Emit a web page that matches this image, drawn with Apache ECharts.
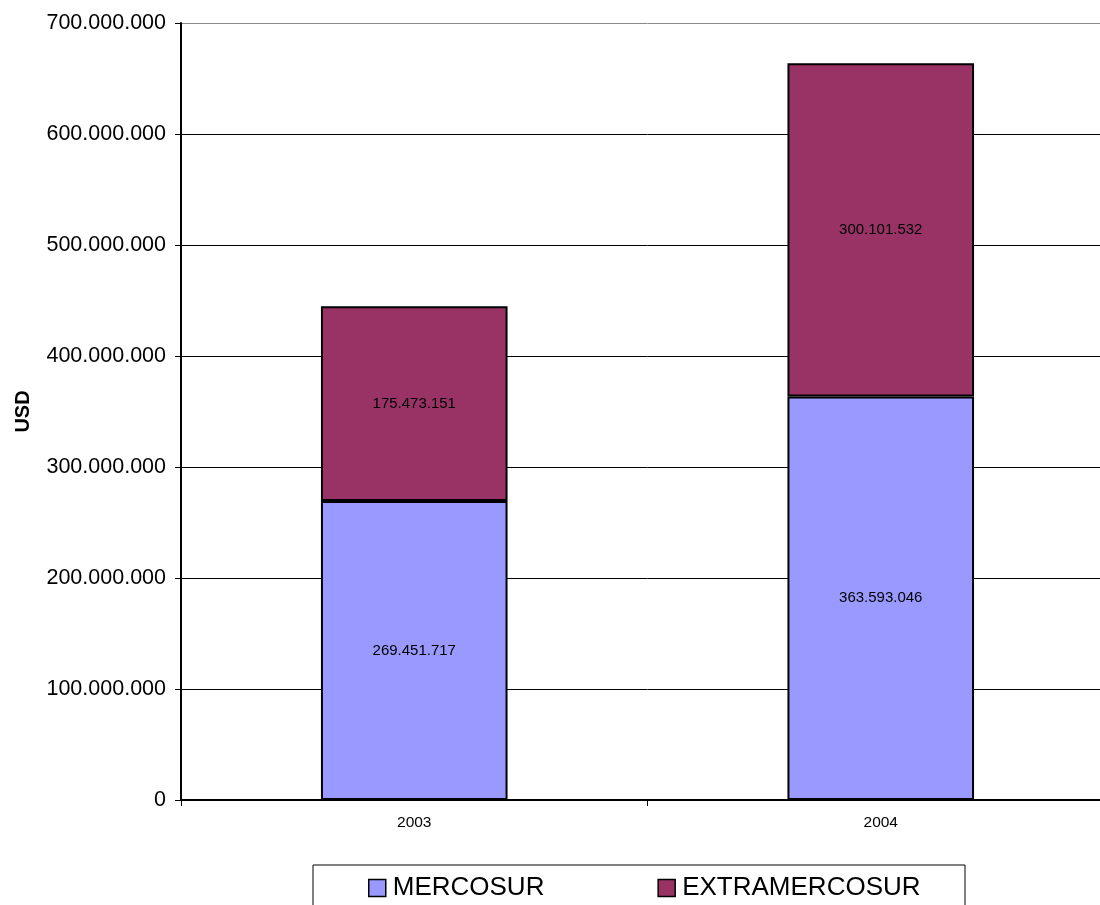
<!DOCTYPE html>
<html>
<head>
<meta charset="utf-8">
<script src="https://cdn.jsdelivr.net/npm/echarts@6/dist/echarts.min.js"></script>
<style>
html,body{margin:0;padding:0;background:#fff;overflow:hidden;width:1100px;height:905px;}
#c{width:1114px;height:905px;}
</style>
</head>
<body>
<div id="c"></div>
<script>
const categories = ['2003', '2004'];
const mercosur = [269451717, 363593046];
const extramercosur = [175473151, 300101532];
const seriesNames = ['MERCOSUR', 'EXTRAMERCOSUR'];
const yTicks = [0, 100000000, 200000000, 300000000, 400000000, 500000000, 600000000, 700000000];

function fmt(v) {
  return String(Math.round(v)).replace(/\B(?=(\d{3})+(?!\d))/g, '.');
}

const chart = echarts.init(document.getElementById('c'));
const font = 'Liberation Sans, Arial, sans-serif';
chart.setOption({
  animation: false,
  textStyle: { fontFamily: font },
  grid: { left: 181, width: 933, top: 23, height: 777, containLabel: false },
  xAxis: {
    type: 'category',
    data: categories,
    boundaryGap: true,
    axisLine: { lineStyle: { color: '#000', width: 2 } },
    axisTick: { show: true, length: 6, lineStyle: { color: '#000' } },
    axisLabel: { color: '#000', fontSize: 15.5, margin: 15, fontFamily: font }
  },
  yAxis: {
    type: 'value',
    min: yTicks[0],
    max: yTicks[yTicks.length - 1],
    interval: yTicks[1] - yTicks[0],
    name: 'USD',
    nameLocation: 'middle',
    nameGap: 148,
    nameRotate: 90,
    nameTextStyle: { fontWeight: 'bold', fontSize: 20, color: '#000', fontFamily: font },
    axisLine: { show: true, lineStyle: { color: '#000', width: 2 } },
    axisTick: { show: true, length: 6, lineStyle: { color: '#000' } },
    axisLabel: { color: '#000', fontSize: 21.5, margin: 15, fontFamily: font, formatter: fmt },
    splitLine: { show: true, lineStyle: { color: ['#000','#000','#000','#000','#000','#000','#000','#888'], width: 1 } }
  },
  legend: {
    data: seriesNames,
    left: 368,
    top: 875,
    padding: 0,
    icon: 'rect',
    itemWidth: 17,
    itemHeight: 17,
    itemGap: 113,
    textStyle: { fontSize: 26, color: '#000', fontFamily: font, padding: [0, 0, 0, 2] },
    itemStyle: { borderColor: '#000', borderWidth: 1.5 }
  },
  graphic: [{
    type: 'rect',
    shape: { x: 313, y: 865, width: 652, height: 60 },
    style: { fill: 'none', stroke: '#000', lineWidth: 1 },
    z: 0
  }],
  series: [
    {
      name: seriesNames[0],
      type: 'bar',
      stack: 'total',
      barWidth: '40%',
      data: mercosur,
      itemStyle: { color: '#9999FF', borderColor: '#000', borderWidth: 2 },
      label: { show: true, position: 'inside', color: '#000', fontSize: 15, fontFamily: font, formatter: p => fmt(p.value) }
    },
    {
      name: seriesNames[1],
      type: 'bar',
      stack: 'total',
      barWidth: '40%',
      data: extramercosur,
      itemStyle: { color: '#993366', borderColor: '#000', borderWidth: 2 },
      label: { show: true, position: 'inside', color: '#000', fontSize: 15, fontFamily: font, formatter: p => fmt(p.value) }
    }
  ]
});
</script>
</body>
</html>
